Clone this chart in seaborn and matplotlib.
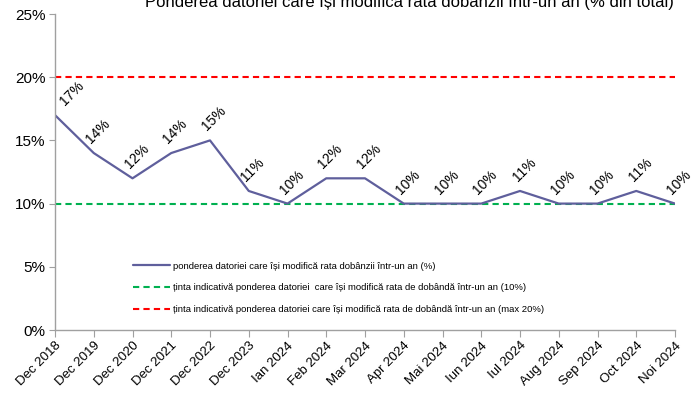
import numpy as np
import pandas as pd
import matplotlib
matplotlib.use('Agg')
import matplotlib.pyplot as plt
import seaborn as sns
from matplotlib.ticker import PercentFormatter

# date
luni = ['Dec 2018', 'Dec 2019', 'Dec 2020', 'Dec 2021', 'Dec 2022', 'Dec 2023',
        'Ian 2024', 'Feb 2024', 'Mar 2024', 'Apr 2024', 'Mai 2024', 'Iun 2024',
        'Iul 2024', 'Aug 2024', 'Sep 2024', 'Oct 2024', 'Noi 2024']
pondere = [17, 14, 12, 14, 15, 11, 10, 12, 12, 10, 10, 10, 11, 10, 10, 11, 10]
tinta_min = 10
tinta_max = 20

titlu = 'Ponderea datoriei care își modifică rata dobânzii într-un an (% din total)'
eticheta_serie = 'ponderea datoriei care își modifică rata dobânzii într-un an (%)'
eticheta_min = 'ținta indicativă ponderea datoriei  care își modifică rata de dobândă într-un an (10%)'
eticheta_max = 'ținta indicativă ponderea datoriei care își modifică rata de dobândă într-un an (max 20%)'

sns.set_style('white')
plt.rcParams['font.family'] = ['Liberation Sans', 'DejaVu Sans']
plt.rcParams['text.color'] = 'black'
plt.rcParams['xtick.labelcolor'] = 'black'
plt.rcParams['ytick.labelcolor'] = 'black'

df = pd.DataFrame({'poz': np.arange(len(luni)), 'luna': luni, 'pondere': pondere})

fig = plt.figure(figsize=(6.97, 4.01), dpi=100)
ax = fig.add_axes([55 / 697, 1 - 330 / 401, 620 / 697, 316 / 401])

sns.lineplot(data=df, x='poz', y='pondere', color='#5F5F9C', linewidth=1.6,
             ax=ax, label=eticheta_serie)
ax.axhline(tinta_min, color='#00B050', linestyle=(0, (3, 2)), linewidth=1.5,
           label=eticheta_min, zorder=1)
ax.axhline(tinta_max, color='#FF0000', linestyle=(0, (3, 2)), linewidth=1.5,
           label=eticheta_max, zorder=1)

# etichete de date
for i, v in enumerate(pondere):
    ha = 'left' if i == 0 else 'center'
    dx = 1.5 if i == 0 else 3
    ax.annotate(f'{v}%', (i, v), xytext=(dx, 5), textcoords='offset points',
                rotation=45, ha=ha, va='bottom', fontsize=10)

ax.set_xlim(0, len(luni) - 1)
ax.set_ylim(0, 25)
ax.set_yticks(range(0, 26, 5))
ax.yaxis.set_major_formatter(PercentFormatter(decimals=0))
ax.set_xticks(df['poz'])
ax.set_xticklabels(luni, rotation=45, ha='right', rotation_mode='anchor', fontsize=9.5)
ax.tick_params(axis='y', labelsize=11, length=4, color='#A0A0A0', left=True, pad=3)
ax.tick_params(axis='x', length=5, color='#A0A0A0', bottom=True, pad=2)
ax.set_xlabel('')
ax.set_ylabel('')

for s in ['top', 'right']:
    ax.spines[s].set_visible(False)
for s in ['left', 'bottom']:
    ax.spines[s].set_color('#A0A0A0')
    ax.spines[s].set_linewidth(1)

ax.legend(loc='upper left', bbox_to_anchor=(0.125, 0.216), frameon=False,
          fontsize=6.8, handlelength=4, handletextpad=0.3, labelspacing=1.35,
          borderpad=0, borderaxespad=0)

fig.text(409 / 697, 1 - 7.5 / 401, titlu, ha='center', va='baseline', fontsize=12)

fig.savefig('out.png', dpi=100)
